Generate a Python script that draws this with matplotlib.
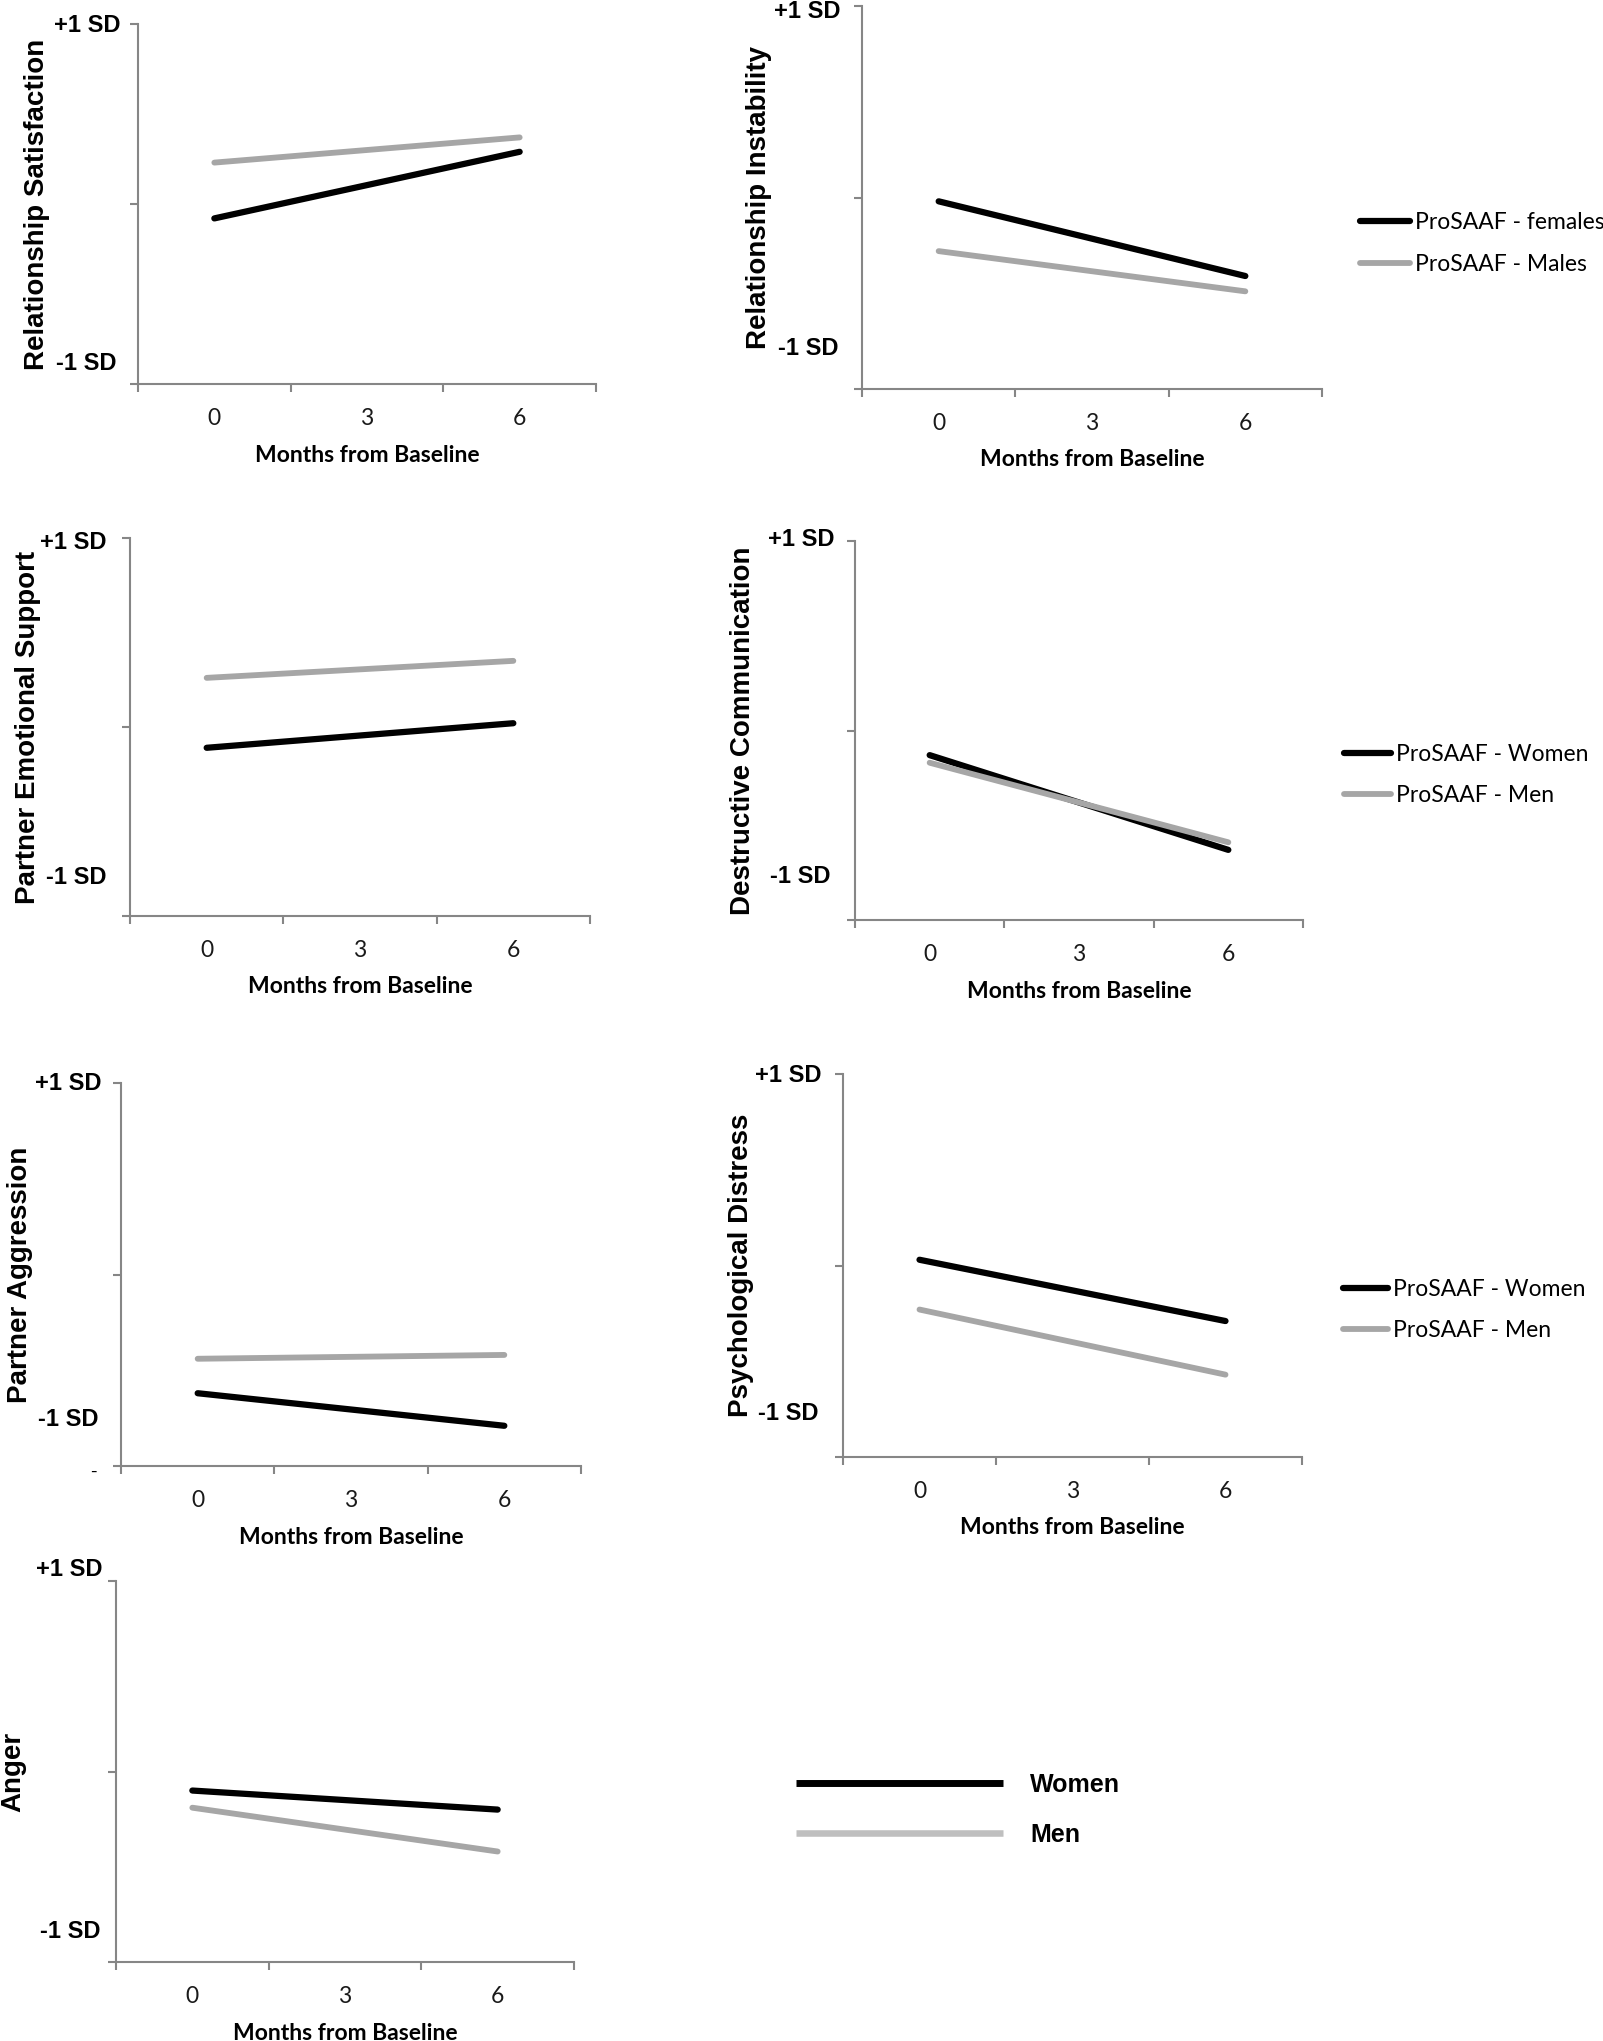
import matplotlib
matplotlib.use("Agg")
import matplotlib.pyplot as plt
from matplotlib.lines import Line2D

# ---------------- data (values in SD units) ----------------
months = [0, 6]
month_ticks = [0, 3, 6]
month_labels = ["0", "3", "6"]
boundaries = [-1.5, 1.5, 4.5, 7.5]
sd_ticks = [-1, 0, 1]

satisfaction_women = [-0.08, 0.29]
satisfaction_men = [0.23, 0.37]
instability_women = [-0.02, -0.41]
instability_men = [-0.28, -0.49]
support_women = [-0.11, 0.02]
support_men = [0.26, 0.35]
destructive_women = [-0.13, -0.63]
destructive_men = [-0.17, -0.59]
aggression_women = [-0.62, -0.79]
aggression_men = [-0.44, -0.42]
distress_women = [0.03, -0.29]
distress_men = [-0.23, -0.57]
anger_women = [-0.10, -0.20]
anger_men = [-0.19, -0.42]

ylabels = ["Relationship Satisfaction", "Relationship Instability",
           "Partner Emotional Support", "Destructive Communication",
           "Partner Aggression", "Psychological Distress", "Anger"]
legend_sets = {1: ["ProSAAF - females", "ProSAAF - Males"],
               3: ["ProSAAF - Women", "ProSAAF - Men"],
               5: ["ProSAAF - Women", "ProSAAF - Men"]}
big_legend = ["Women", "Men"]

series = [(satisfaction_women, satisfaction_men), (instability_women, instability_men),
          (support_women, support_men), (destructive_women, destructive_men),
          (aggression_women, aggression_men), (distress_women, distress_men),
          (anger_women, anger_men)]

# ---------------- layout (pixels) ----------------
W, H = 1603, 2041
boxes = [(138, 24, 596, 384), (862, 6, 1322, 389),
         (130, 538, 590, 916), (855, 541, 1303, 920),
         (121, 1083, 581, 1466), (843, 1074, 1302, 1457),
         (116, 1581, 574, 1962)]
ylab_x = [37, 759, 28, 743, 20, 741, 13]
plus_pos = [(121, 26), (841, 12), (107, 542), (835, 540), (101, 1083), (822, 1075), (103, 1569)]
minus_pos = [(117, 363), (839, 348), (106, 878), (831, 877), (99, 1420), (818, 1413), (100, 1932)]
legend_pos = {1: (1358, 243.5, 50), 3: (1342, 775, 47), 5: (1341, 1310, 45)}

AX_COLOR = "#868686"
GRAY = "#a6a6a6"
CAL = "Lato"
ARIAL = "Liberation Sans"

fig = plt.figure(figsize=(W / 100, H / 100), dpi=100)


def fx(x):
    return x / W


def fy(y):
    return 1 - y / H


for i, ((women, men), (L, T, R, B)) in enumerate(zip(series, boxes)):
    ax = fig.add_axes([fx(L), fy(B), (R - L) / W, (B - T) / H])
    lw_, = ax.plot(months, women, color="black", lw=4.5, solid_capstyle="round")
    lm_, = ax.plot(months, men, color=GRAY, lw=4.2, solid_capstyle="round")
    ax.set_xlim(boundaries[0], boundaries[-1])
    ax.set_ylim(-1, 1)
    for s in ("top", "right"):
        ax.spines[s].set_visible(False)
    for s in ("left", "bottom"):
        ax.spines[s].set_color(AX_COLOR)
        ax.spines[s].set_linewidth(1.5)
    ax.set_yticks(sd_ticks)
    ax.set_yticklabels([])
    ax.set_xticks(boundaries)
    ax.set_xticklabels([])
    ax.set_xticks(month_ticks, minor=True)
    ax.set_xticklabels(month_labels, minor=True, fontfamily=CAL, fontsize=16.5, color="#1a1a1a")
    ax.tick_params(which="major", direction="out", length=5.5, width=1.5, color=AX_COLOR)
    ax.tick_params(axis="x", which="minor", length=0, pad=17)
    ax.patch.set_alpha(0)

    # axis titles
    fig.text(fx(ylab_x[i]), fy((T + B) / 2), ylabels[i], rotation=90, ha="center", va="center",
             fontsize=20, fontweight="bold", fontfamily=ARIAL)
    fig.text(fx((L + R) / 2), fy(B + 71), "Months from Baseline", ha="center", va="center",
             fontsize=16.5, fontweight="bold", fontfamily=CAL)
    fig.text(fx(plus_pos[i][0]), fy(plus_pos[i][1]), "+1 SD", ha="right", va="center",
             fontsize=17, fontweight="bold", fontfamily=ARIAL)
    fig.text(fx(minus_pos[i][0]), fy(minus_pos[i][1]), "-1 SD", ha="right", va="center",
             fontsize=17, fontweight="bold", fontfamily=ARIAL)
    if i == 4:
        fig.text(fx(97), fy(1472), "-", ha="right", va="center",
                 fontsize=14, fontfamily=ARIAL)

    if i in legend_sets:
        x0, yc, hl = legend_pos[i]
        fs_px = 16.5 * 100 / 72
        ax.legend([lw_, lm_], legend_sets[i], loc="center left",
                  bbox_to_anchor=(fx(x0 + 2), fy(yc)), bbox_transform=fig.transFigure,
                  frameon=False, borderpad=0, borderaxespad=0,
                  handlelength=hl / fs_px, handletextpad=0.22, labelspacing=0.9,
                  prop={"family": CAL, "size": 16.5})
    if i == 6:
        fs_px = 18 * 100 / 72
        h1 = Line2D([], [], color="black", lw=5.0, solid_capstyle="butt")
        h2 = Line2D([], [], color="#bfbfbf", lw=4.7, solid_capstyle="butt")
        ax.legend([h1, h2], big_legend, loc="center left",
                  bbox_to_anchor=(fx(796), fy(1810)), bbox_transform=fig.transFigure,
                  frameon=False, borderpad=0, borderaxespad=0,
                  handlelength=207 / fs_px, handletextpad=1.08, labelspacing=1.05,
                  prop={"family": ARIAL, "size": 18, "weight": "bold"})

fig.savefig("out.png", dpi=100, facecolor="white")
